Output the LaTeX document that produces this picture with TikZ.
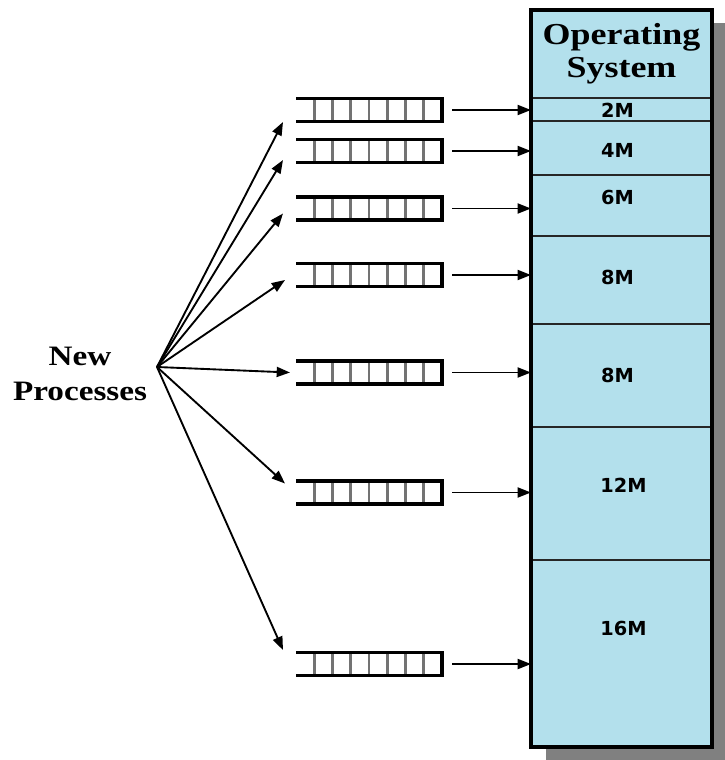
\documentclass[tikz,border=0pt]{standalone}
\usepackage{fontspec}
\newfontfamily\headfont{Liberation Serif}[FakeStretch=1.18]
\newfontfamily\sizefont{DejaVu Sans}
\usepackage{tikz}
\usetikzlibrary{positioning,calc,arrows.meta}
\definecolor{membg}{RGB}{179,224,236}
\definecolor{shadowgray}{RGB}{128,128,128}
\tikzstyle{part} = [rectangle, draw=black!85, line width=1.8pt, fill=membg,
minimum width=5.43cm, inner sep=0pt, outer sep=0pt]
\tikzstyle{sizelbl} = [font=\sizefont\bfseries\fontsize{16.5}{18}\selectfont, inner sep=0pt]
\tikzstyle{queue} = [rectangle, minimum width=4.38cm, minimum height=0.69cm, inner sep=0pt, outer sep=0pt]
\tikzstyle{line} = [draw, -{Triangle[length=0.4cm, width=0.3cm]}, line width=1.6pt]

\begin{document}
\begin{tikzpicture}[x=0.03cm, y=-0.03cm]
\useasboundingbox (0,0) rectangle (724,760);
    % shadow behind the memory column
\fill [shadowgray] (546,23) rectangle (730,762);
    % memory partitions
\node [part, anchor=north west, minimum height=2.64cm, align=center,
  font=\headfont\bfseries\fontsize{26}{28}\selectfont] (os) at (531,10) {Operating\\System};
\node [part, minimum height=0.69cm, below=0pt of os] (p2) {};
\node [part, minimum height=1.62cm, below=0pt of p2] (p4) {};
\node [part, minimum height=1.83cm, below=0pt of p4] (p6) {};
\node [part, minimum height=2.64cm, below=0pt of p6] (p8a) {};
\node [part, minimum height=3.09cm, below=0pt of p8a] (p8b) {};
\node [part, minimum height=3.99cm, below=0pt of p8b] (p12) {};
\node [part, minimum height=5.61cm, below=0pt of p12] (p16) {};
\draw [line width=3pt] (os.north west) rectangle (p16.south east);

\node [sizelbl] (l2) at ($(p2.north)+(-4,12)$) {2M};
\node [sizelbl] (l4) at ($(p4.north)+(-4,29)$) {4M};
\node [sizelbl] (l6) at ($(p6.north)+(-4,22)$) {6M};
\node [sizelbl] (l8a) at ($(p8a.north)+(-4,41)$) {8M};
\node [sizelbl] (l8b) at ($(p8b.north)+(-4,51)$) {8M};
\node [sizelbl] (l12) at ($(p12.north)+(2,58)$) {12M};
\node [sizelbl] (l16) at ($(p16.north)+(2,68)$) {16M};

    % queues
\node [queue] (q1) at (369,110) {};
\node [queue] (q2) at (369,151) {};
\node [queue] (q3) at (369,208.5) {};
\node [queue] (q4) at (369,275) {};
\node [queue] (q5) at (369,372.5) {};
\node [queue] (q6) at (369,492.5) {};
\node [queue] (q7) at (369,664) {};
\foreach \q in {q1,q2,q3,q4,q5,q6,q7} {
  \foreach \i in {1,...,7}
    \draw [black!55, line width=2.4pt] ($(\q.north west)!\i/8!(\q.north east)$) -- ($(\q.south west)!\i/8!(\q.south east)$);
  \draw [line width=2.8pt] (\q.north west) -- (\q.north east) -- (\q.south east) -- (\q.south west);
}

\node [align=center, font=\headfont\bfseries\fontsize{24}{30}\selectfont] (np) at (80,374) {New\\Processes};
\coordinate (fan) at (157,367);

%edges
\path [line] (fan) -- ($(q1.west)+(-13,12)$);
\path [line] (fan) -- ($(q2.west)+(-13,9)$);
\path [line] (fan) -- ($(q3.west)+(-13,5)$);
\path [line] (fan) -- ($(q4.west)+(-11,5)$);
\path [line] (fan) -- ($(q5.west)+(-6,0)$);
\path [line] (fan) -- ($(q6.west)+(-11,-9)$);
\path [line] (fan) -- ($(q7.west)+(-13,-14)$);

\path [line] ([xshift=0.3cm]q1.east) -- (q1.east -| p2.west);
\path [line] ([xshift=0.3cm]q2.east) -- (q2.east -| p4.west);
\path [line] ([xshift=0.3cm]q3.east) -- (q3.east -| p6.west);
\path [line] ([xshift=0.3cm]q4.east) -- (q4.east -| p8a.west);
\path [line] ([xshift=0.3cm]q5.east) -- (q5.east -| p8b.west);
\path [line] ([xshift=0.3cm]q6.east) -- (q6.east -| p12.west);
\path [line] ([xshift=0.3cm]q7.east) -- (q7.east -| p16.west);
\end{tikzpicture}
\end{document}
